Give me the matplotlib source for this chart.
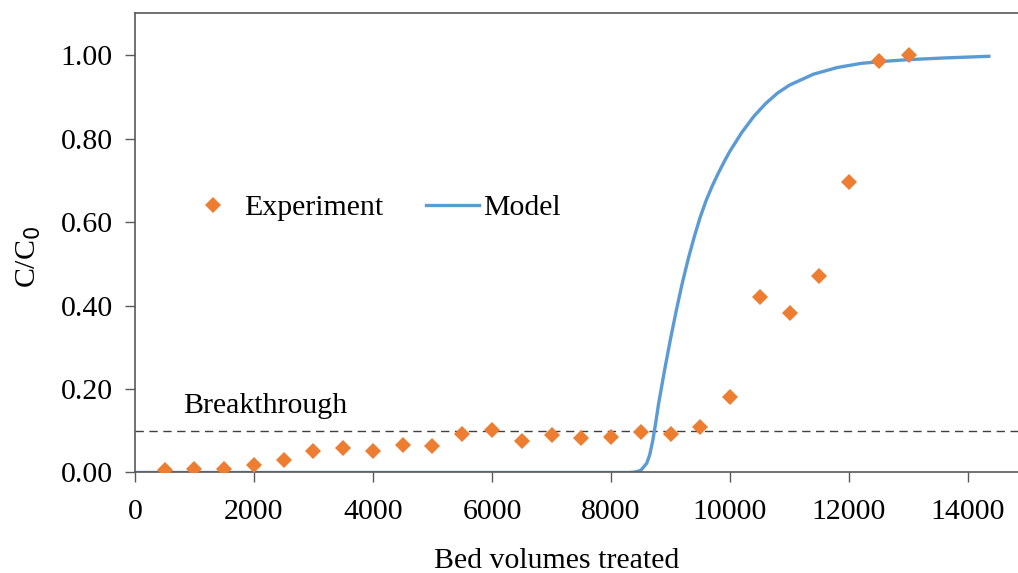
import matplotlib.pyplot as plt

plt.rcParams["font.family"] = ["Liberation Serif", "DejaVu Serif"]

# experiment data
exp_bv = [500, 1000, 1500, 2000, 2500, 3000, 3500, 4000, 4500, 5000, 5500, 6000, 6500,
          7000, 7500, 8000, 8500, 9000, 9500, 10000, 10500, 11000, 11500, 12000, 12500, 13000]
exp_c = [0.005, 0.008, 0.008, 0.018, 0.031, 0.052, 0.058, 0.052, 0.067, 0.064, 0.092, 0.102, 0.076,
         0.090, 0.083, 0.086, 0.096, 0.092, 0.108, 0.182, 0.420, 0.383, 0.470, 0.695, 0.986, 0.999]

# model curve
model_bv = [0, 8300, 8400, 8500, 8600, 8650, 8700, 8750, 8800, 8900, 9000, 9100, 9200, 9300, 9400,
            9500, 9600, 9700, 9800, 9900, 10000, 10200, 10400, 10600, 10800, 11000, 11400, 11800,
            12200, 12600, 13000, 13600, 14350]
model_c = [0, 0, 0.001, 0.005, 0.022, 0.042, 0.075, 0.118, 0.165, 0.245, 0.320, 0.390, 0.455, 0.513,
           0.565, 0.612, 0.652, 0.686, 0.716, 0.744, 0.770, 0.815, 0.853, 0.884, 0.909, 0.928,
           0.954, 0.970, 0.980, 0.985, 0.989, 0.993, 0.997]

breakthrough = 0.1

fs = 21.5

fig = plt.figure(figsize=(10.18, 5.73), dpi=100)
ax = fig.add_axes([0.1326, 0.1754, 0.8674, 0.8014])

ax.plot(exp_bv, exp_c, linestyle="none", marker="D", markersize=8.5, color="#ED7D31",
        markeredgewidth=0, label="Experiment", zorder=3)
ax.plot(model_bv, model_c, color="#5B9BD5", linewidth=2.4, label="Model", zorder=2)
ax.axhline(breakthrough, color="#404040", linestyle=(0, (6, 4)), linewidth=1.0, zorder=1)
ax.text(806, 0.16, "Breakthrough", fontsize=fs, va="center", ha="left")

ax.set_xlim(0, 14840)
ax.set_ylim(0, 1.1)
ax.set_xticks(range(0, 14001, 2000))
ax.set_yticks([0, 0.2, 0.4, 0.6, 0.8, 1.0])
ax.set_yticklabels([f"{v:.2f}" for v in [0, 0.2, 0.4, 0.6, 0.8, 1.0]])
ax.tick_params(axis="both", labelsize=fs, length=7, width=1.0, color="#595959", direction="out")
ax.tick_params(axis="y", pad=9)
ax.tick_params(axis="x", pad=12)

for side in ["left", "bottom", "top"]:
    ax.spines[side].set_color("#595959")
    ax.spines[side].set_linewidth(1.2)
ax.spines["right"].set_visible(False)

ax.set_xlabel("Bed volumes treated", fontsize=fs)
ax.set_ylabel("C/C$_0$", fontsize=fs)
ax.xaxis.set_label_coords(0.477, -0.165)
ax.yaxis.set_label_coords(-0.104, 0.47)

ax.legend(loc="center left", bbox_to_anchor=(0.059, 0.576), ncol=2, frameon=False,
          fontsize=fs, handlelength=1.75, handletextpad=0.15, columnspacing=1.45,
          borderpad=0, borderaxespad=0)

fig.savefig("out.png", dpi=100)
